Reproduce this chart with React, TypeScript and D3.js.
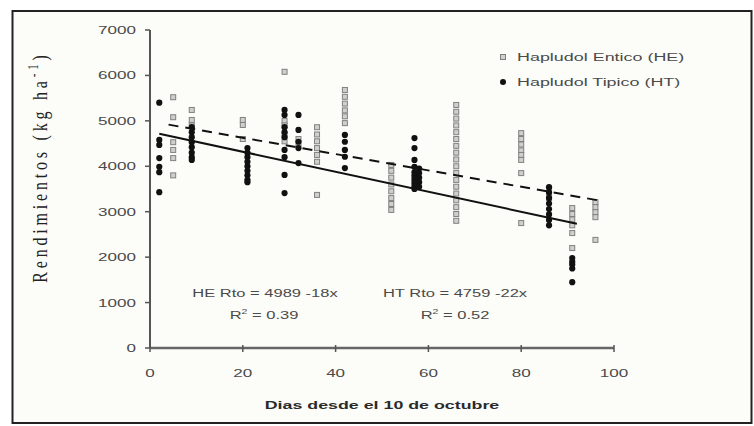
import React from "react";
import * as d3 from "d3";

// ---- data ----
const xTicks = [0, 20, 40, 60, 80, 100];
const yTicks = [0, 1000, 2000, 3000, 4000, 5000, 6000, 7000];

// Hapludol Entico (HE): sampling days and yields per day
const heDays = [5, 9, 20, 29, 32, 36, 42, 52, 66, 80, 86, 91, 96];
const heYields = [
  [5520, 5080, 4530, 4360, 4180, 3800],
  [5240, 5020, 4900],
  [5020, 4910, 4600],
  [6080, 5000, 4900, 4700, 4550],
  [4600, 4500],
  [4860, 4700, 4550, 4400, 4250, 4100, 3370],
  [5680, 5530, 5380, 5230, 5100, 4950],
  [4030, 3900, 3750, 3600, 3450, 3300, 3170, 3040],
  [5350, 5200, 5050, 4900, 4750, 4600, 4450, 4300, 4150, 4000, 3850, 3700, 3550, 3400, 3250, 3100, 2950, 2800],
  [4730, 4600, 4480, 4350, 4250, 4140, 3850, 2750],
  [3450, 3300],
  [3080, 2950, 2830, 2700, 2530, 2200],
  [3210, 3100, 2990, 2880, 2380],
];

// Hapludol Tipico (HT)
const htDays = [2, 9, 21, 29, 32, 42, 57, 58, 86, 91];
const htYields = [
  [5400, 4580, 4470, 4180, 3990, 3870, 3430],
  [4860, 4750, 4640, 4530, 4420, 4300, 4200, 4140],
  [4400, 4300, 4200, 4100, 4000, 3900, 3800, 3700, 3650],
  [5240, 5130, 4860, 4750, 4640, 4360, 4200, 3810, 3410],
  [5130, 4800, 4540, 4400, 4070],
  [4690, 4540, 4360, 4210, 3960],
  [4620, 4400, 4140, 3990, 3870, 3800, 3740, 3680, 3620, 3560, 3500],
  [3950, 3850, 3750, 3650, 3550],
  [3540, 3420, 3300, 3180, 3060, 2940, 2820, 2700],
  [1980, 1900, 1840, 1750, 1450],
];

// regression: [intercept, slope, xStart, xEnd]
const heFit = [4989, -18, 4, 97];
const htFit = [4759, -22, 2, 92];

const legendLabels = ["Hapludol Entico (HE)", "Hapludol Tipico (HT)"];
const heEq = ["HE Rto = 4989 -18x", "0.39"];
const htEq = ["HT Rto = 4759 -22x", "0.52"];

const FONT = "'Liberation Sans', Arial, sans-serif";
const TXT = "#4a4a4a";

function SText({ x, y, anchor = "start", bold = false, size = 11, fill = TXT, sx = 1.5, children }: any) {
  return (
    <g transform={`translate(${x},${y}) scale(${sx},1)`}>
      <text x={0} y={0} textAnchor={anchor} fontFamily={FONT} fontSize={size}
        fontWeight={bold ? "bold" : "normal"} fill={fill}>
        {children}
      </text>
    </g>
  );
}

export default function App() {
  const W = 754, H = 426;
  const x = d3.scaleLinear().domain([0, 100]).range([150, 614]);
  const y = d3.scaleLinear().domain([0, 7000]).range([348, 30]);

  const hePts = heDays.flatMap((d, i) => heYields[i].map((v) => [d, v]));
  const htPts = htDays.flatMap((d, i) => htYields[i].map((v) => [d, v]));

  const fitPath = (f: number[]) =>
    d3.line<number[]>().x((p) => x(p[0])).y((p) => y(p[1]))([
      [f[2], f[0] + f[1] * f[2]],
      [f[3], f[0] + f[1] * f[3]],
    ]) as string;

  return (
    <svg width={W} height={H} style={{ position: "absolute", left: 0, top: 0 }}>
      <rect x={0} y={0} width={W} height={H} fill="#ffffff" />
      <rect x={12.5} y={11} width={739} height={412} fill="#fcfcf8" stroke="#222" strokeWidth={2} />

      {/* axes */}
      <line x1={x(0)} x2={x(0)} y1={y(7000)} y2={y(0)} stroke="#555" strokeWidth={2} />
      <line x1={x(0)} x2={x(100)} y1={y(0)} y2={y(0)} stroke="#666" strokeWidth={2.5} />
      {yTicks.map((t) => (
        <g key={"y" + t}>
          <line x1={x(0) - 5} x2={x(0)} y1={y(t)} y2={y(t)} stroke="#555" strokeWidth={1.5} />
          <SText x={136} y={y(t) + 4} anchor="end" sx={1.55}>{t}</SText>
        </g>
      ))}
      {xTicks.map((t) => (
        <g key={"x" + t}>
          <line x1={x(t)} x2={x(t)} y1={y(0) - 3} y2={y(0) + 4} stroke="#555" strokeWidth={1.5} />
          <SText x={x(t)} y={377} anchor="middle" sx={1.55}>{t}</SText>
        </g>
      ))}

      {/* HE squares */}
      {hePts.map((p, i) => (
        <rect key={"he" + i} x={x(p[0]) - 2.5} y={y(p[1]) - 2.5} width={5} height={5}
          fill="#cfcfcb" stroke="#808080" strokeWidth={1} />
      ))}
      {/* HT dots */}
      {htPts.map((p, i) => (
        <circle key={"ht" + i} cx={x(p[0])} cy={y(p[1])} r={3.1} fill="#111" />
      ))}

      {/* regression lines */}
      <path d={fitPath(heFit)} stroke="#111" strokeWidth={2} strokeDasharray="10,7" fill="none" />
      <path d={fitPath(htFit)} stroke="#111" strokeWidth={2} fill="none" />

      {/* legend */}
      <rect x={500.5} y={54.5} width={5} height={5} fill="#cfcfcb" stroke="#808080" strokeWidth={1} />
      <SText x={517} y={61} sx={1.63}>{legendLabels[0]}</SText>
      <circle cx={503} cy={82} r={3} fill="#111" />
      <SText x={517} y={86} sx={1.63}>{legendLabels[1]}</SText>

      {/* equations */}
      <SText x={265} y={297} anchor="middle">{heEq[0]}</SText>
      <SText x={264} y={319} anchor="middle">
        R<tspan fontSize={7} dy={-5}>2</tspan><tspan dy={5}> = {heEq[1]}</tspan>
      </SText>
      <SText x={455} y={297} anchor="middle">{htEq[0]}</SText>
      <SText x={455} y={319} anchor="middle">
        R<tspan fontSize={7} dy={-5}>2</tspan><tspan dy={5}> = {htEq[1]}</tspan>
      </SText>

      {/* axis titles */}
      <SText x={382} y={409} anchor="middle" bold={true} size={11} fill="#2a2a2a" sx={1.62}>
        Dias desde el 10 de octubre
      </SText>
      <g transform="translate(47,167) rotate(-90) scale(1,1.3)">
        <text x={0} y={0} textAnchor="middle" fontFamily="'Liberation Serif', 'Times New Roman', serif"
          fontSize={16} letterSpacing={3.8} fill="#222">
          Rendimientos (kg ha<tspan fontSize={11} dy={-7}>-1</tspan><tspan dy={7}>)</tspan>
        </text>
      </g>
    </svg>
  );
}
